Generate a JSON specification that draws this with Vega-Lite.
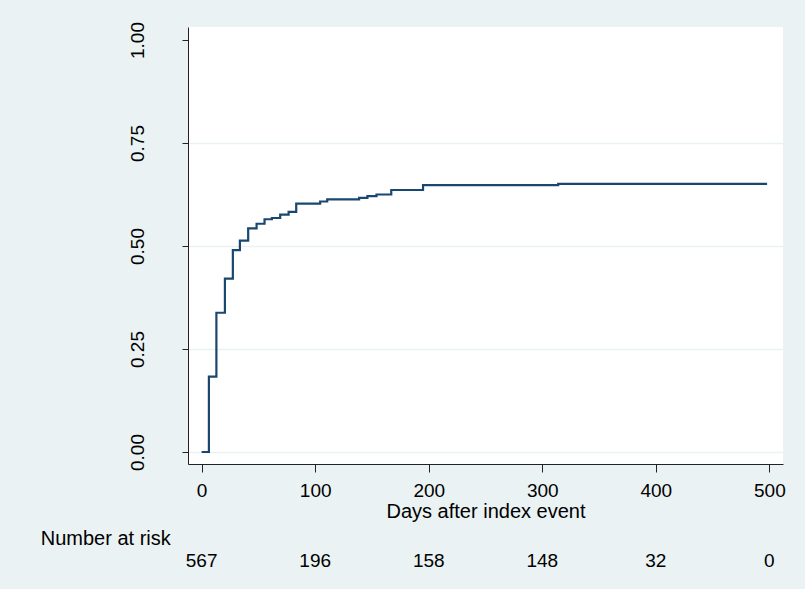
{
  "$schema": "https://vega.github.io/schema/vega-lite/v6.json",
  "autosize": "none",
  "width": 595,
  "height": 437,
  "padding": {"left": 188, "top": 27, "right": 22, "bottom": 125},
  "background": "#EAF2F3",
  "config": {
    "font": "Liberation Sans",
    "view": {"stroke": null, "fill": "white"},
    "axis": {
      "labelFont": "Liberation Sans",
      "titleFont": "Liberation Sans",
      "labelColor": "#000000",
      "titleColor": "#000000",
      "domainColor": "#222222",
      "tickColor": "#222222",
      "labelFontSize": 19,
      "titleFontSize": 20,
      "titleFontWeight": "normal",
      "labelFlush": false,
      "labelOverlap": false
    }
  },
  "datasets": {
    "km": [
      {"day": 0, "ci": 0},
      {"day": 6.4, "ci": 0.183},
      {"day": 13, "ci": 0.338},
      {"day": 20.5, "ci": 0.421},
      {"day": 27.5, "ci": 0.49},
      {"day": 33.7, "ci": 0.513},
      {"day": 41, "ci": 0.543},
      {"day": 48.4, "ci": 0.554},
      {"day": 55.4, "ci": 0.565},
      {"day": 61.9, "ci": 0.568},
      {"day": 69.2, "ci": 0.576},
      {"day": 76.6, "ci": 0.583},
      {"day": 83.3, "ci": 0.603},
      {"day": 104.4, "ci": 0.608},
      {"day": 110.6, "ci": 0.613},
      {"day": 138.7, "ci": 0.617},
      {"day": 146, "ci": 0.621},
      {"day": 154, "ci": 0.625},
      {"day": 167, "ci": 0.636},
      {"day": 195, "ci": 0.648},
      {"day": 314, "ci": 0.651},
      {"day": 498, "ci": 0.651}
    ],
    "risk": [
      {"day": 0, "n": "567"},
      {"day": 100, "n": "196"},
      {"day": 200, "n": "158"},
      {"day": 300, "n": "148"},
      {"day": 400, "n": "32"},
      {"day": 500, "n": "0"}
    ],
    "header": [
      {"day": -141.7, "label": "Number at risk"}
    ]
  },
  "encoding": {
    "x": {
      "field": "day",
      "type": "quantitative",
      "scale": {"domain": [-12, 512], "nice": false, "zero": false},
      "axis": {
        "values": [0, 100, 200, 300, 400, 500],
        "title": "Days after index event",
        "grid": false,
        "tickSize": 8,
        "labelPadding": 9,
        "titlePadding": 1
      }
    }
  },
  "layer": [
    {
      "data": {"name": "km"},
      "mark": {"type": "line", "interpolate": "step-after", "color": "#1A476F", "strokeWidth": 2.2},
      "encoding": {
        "y": {
          "field": "ci",
          "type": "quantitative",
          "scale": {"domain": [-0.0291, 1.0316], "nice": false, "zero": false},
          "axis": {
            "values": [0, 0.25, 0.5, 0.75, 1],
            "format": ".2f",
            "title": null,
            "grid": true,
            "gridColor": "#EAF2F3",
            "gridWidth": 1.5,
            "gridOpacity": {"condition": {"test": "datum.value == 1", "value": 0}, "value": 1},
            "tickSize": 6,
            "labelAngle": 270,
            "labelAlign": "center",
            "labelBaseline": "alphabetic",
            "labelPadding": 39
          }
        }
      }
    },
    {
      "data": {"name": "risk"},
      "mark": {"type": "text", "fontSize": 19, "color": "#000000", "align": "center", "baseline": "alphabetic"},
      "encoding": {
        "y": {"datum": -0.279, "type": "quantitative"},
        "text": {"field": "n"}
      }
    },
    {
      "data": {"name": "header"},
      "mark": {"type": "text", "fontSize": 20, "color": "#000000", "align": "left", "baseline": "alphabetic"},
      "encoding": {
        "y": {"datum": -0.226, "type": "quantitative"},
        "text": {"field": "label"}
      }
    }
  ]
}
